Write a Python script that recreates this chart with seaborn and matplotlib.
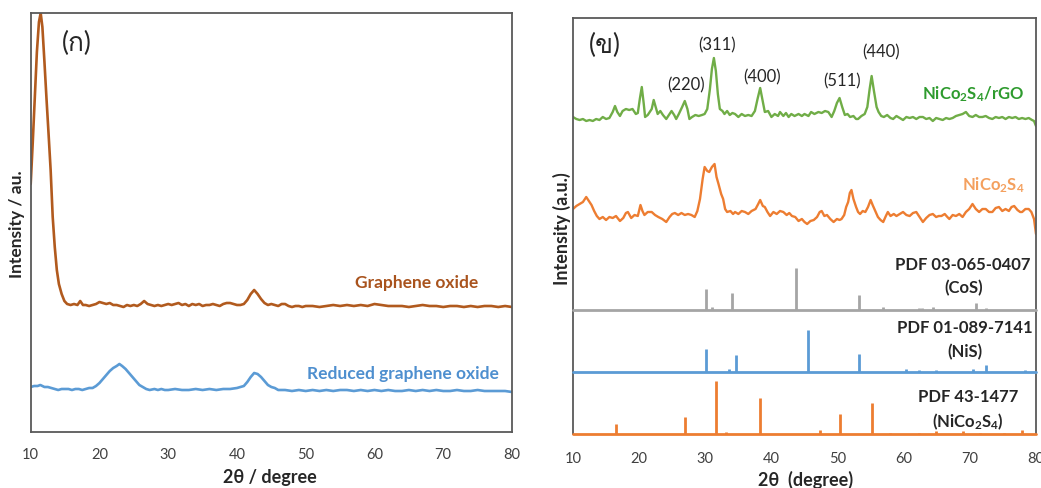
import numpy as np
import pandas as pd
import matplotlib
matplotlib.use("Agg")
import matplotlib.pyplot as plt
import seaborn as sns
from matplotlib import font_manager

# ---------------------------------------------------------------- data
# (a) graphene oxide / reduced graphene oxide, 2-theta vs intensity (a.u.)
go_2theta = [10.0, 10.3, 10.6, 10.9, 11.2, 11.45, 11.7, 12.0, 12.3, 12.6, 12.9, 13.2, 13.5, 13.8,
             14.1, 14.5, 14.9, 15.3, 15.8, 16.3, 16.8, 17.2, 17.6, 18.0, 18.5, 19.0, 19.5, 20.0,
             20.5, 21.0, 21.5, 22.0, 22.5, 23.0, 23.5, 24.0, 24.5, 25.0, 25.5, 26.0, 26.5, 27.0,
             27.5, 28.0, 28.5, 29.0, 29.5, 30.0, 30.5, 31.0, 31.5, 32.0, 32.5, 33.0, 33.5, 34.0,
             34.5, 35.0, 35.5, 36.0, 36.5, 37.0, 37.5, 38.0, 38.5, 39.0, 39.5, 40.0, 40.5, 41.0,
             41.5, 42.0, 42.5, 43.0, 43.5, 44.0, 44.5, 45.0, 45.5, 46.0, 46.5, 47.0, 47.5, 48.0,
             48.5, 49.0, 49.5, 50.0, 51.0, 52.0, 53.0, 54.0, 55.0, 56.0, 57.0, 58.0, 59.0, 60.0,
             61.0, 62.0, 63.0, 64.0, 65.0, 66.0, 67.0, 68.0, 69.0, 70.0, 71.0, 72.0, 73.0, 74.0,
             75.0, 76.0, 77.0, 78.0, 79.0, 80.0]
go_int = [138, 180, 225, 270, 300, 309, 295, 260, 223, 188, 152, 105, 75, 52,
          38, 28, 21, 18, 17, 18, 17, 21, 17, 17, 16, 17, 18, 20,
          19, 18, 19, 17, 17, 16, 15, 17, 16, 17, 16, 18, 21, 18,
          17, 16, 17, 16, 17, 18, 17, 18, 19, 17, 18, 16, 18, 17,
          18, 16, 17, 17, 18, 17, 16, 18, 19, 19, 18, 17, 17, 18,
          22, 28, 32, 28, 23, 19, 17, 18, 17, 16, 18, 18, 16, 15,
          16, 16, 15, 16, 16, 15, 16, 17, 16, 17, 16, 17, 16, 18,
          17, 16, 16, 16, 15, 16, 17, 16, 16, 15, 16, 16, 15, 16,
          15, 16, 16, 15, 16, 15]

rgo_2theta = [10.0, 10.5, 11.0, 11.4, 12.0, 12.5, 13.0, 13.5, 14.0, 14.5, 15.0, 15.5, 16.0, 16.5,
              17.0, 17.5, 18.0, 18.5, 19.0, 19.5, 20.0, 20.5, 21.0, 21.5, 22.0, 22.5, 22.9, 23.3,
              23.8, 24.3, 24.8, 25.3, 25.8, 26.3, 26.8, 27.3, 28.0, 28.5, 29.0, 29.5, 30.0, 31.0,
              32.0, 33.0, 34.0, 35.0, 36.0, 37.0, 38.0, 39.0, 40.0, 40.5, 41.0, 41.5, 42.0, 42.5,
              43.0, 43.5, 44.0, 44.5, 45.0, 45.5, 46.0, 47.0, 48.0, 49.0, 50.0, 51.0, 52.0, 53.0,
              54.0, 55.0, 56.0, 57.0, 58.0, 59.0, 60.0, 61.0, 62.0, 63.0, 64.0, 65.0, 66.0, 67.0,
              68.0, 69.0, 70.0, 71.0, 72.0, 73.0, 74.0, 75.0, 76.0, 77.0, 78.0, 79.0, 80.0]
rgo_int = [15, 16, 16, 17, 15, 15, 14, 13, 12, 13, 13, 13, 12, 13,
           13, 12, 13, 14, 14, 16, 19, 23, 27, 31, 34, 36, 38, 36,
           33, 29, 25, 21, 17, 15, 13, 12, 13, 12, 13, 12, 12, 13,
           12, 12, 13, 12, 13, 12, 13, 13, 14, 15, 16, 20, 25, 29,
           28, 25, 21, 17, 15, 14, 12, 12, 11, 12, 11, 12, 11, 12,
           11, 12, 12, 11, 12, 11, 12, 11, 12, 11, 11, 12, 11, 12,
           11, 12, 11, 11, 12, 11, 11, 12, 11, 11, 11, 11, 10]

# (b) NiCo2S4/rGO composite
comp_2theta = [10.0, 10.5, 11.0, 11.5, 12.0, 12.5, 13.0, 13.5, 14.0, 14.5, 15.0, 15.5, 16.0, 16.35,
               16.7, 17.1, 17.5, 18.0, 18.5, 19.0, 19.5, 19.8, 20.1, 20.4, 20.7, 20.9, 21.3, 21.6,
               21.9, 22.2, 22.5, 22.8, 23.2, 23.6, 24.1, 24.5, 24.9, 25.3, 25.6, 26.0, 26.5, 26.9,
               27.3, 27.6, 28.0, 28.5, 29.0, 29.5, 29.9, 30.3, 30.7, 31.0, 31.3, 31.6, 31.9, 32.2,
               32.6, 32.9, 33.3, 33.7, 34.1, 34.5, 35.0, 35.5, 36.0, 36.5, 37.0, 37.5, 37.9, 38.3,
               38.7, 39.0, 39.5, 40.0, 40.5, 41.0, 41.3, 41.8, 42.2, 42.6, 43.0, 43.5, 44.1, 44.6,
               45.0, 45.6, 46.0, 46.5, 47.1, 47.6, 48.1, 48.6, 49.1, 49.5, 49.9, 50.3, 50.7, 51.1,
               51.5, 51.9, 52.4, 52.8, 53.1, 53.6, 54.1, 54.5, 54.85, 55.15, 55.5, 55.9, 56.2, 56.6,
               57.0, 57.5, 58.0, 58.4, 58.9, 59.4, 59.9, 60.4, 60.9, 61.4, 61.9, 62.4, 62.9, 63.4,
               63.9, 64.4, 64.9, 65.4, 65.9, 66.4, 66.9, 67.4, 67.9, 68.4, 68.9, 69.4, 69.9, 70.4,
               70.9, 71.4, 71.9, 72.4, 72.9, 73.4, 73.9, 74.4, 74.9, 75.4, 75.9, 76.4, 76.9, 77.4,
               77.9, 78.4, 78.9, 79.4, 79.7, 80.0]
comp_int = [17, 15, 14, 15, 13, 14, 13, 15, 14, 17, 15, 16, 22, 28,
            22, 18, 23, 25, 24, 25, 20, 21, 35, 47, 30, 17, 19, 22,
            25, 34, 27, 20, 23, 19, 15, 19, 23, 19, 15, 20, 27, 33,
            25, 15, 17, 19, 18, 19, 20, 25, 45, 65, 76, 63, 40, 25,
            23, 20, 23, 19, 21, 20, 17, 20, 18, 19, 18, 23, 35, 46,
            32, 22, 23, 17, 20, 18, 22, 18, 21, 17, 20, 18, 20, 18,
            20, 18, 22, 20, 22, 21, 23, 22, 17, 23, 31, 36, 27, 19,
            20, 17, 18, 15, 15, 18, 20, 27, 45, 58, 43, 27, 22, 18,
            17, 19, 16, 15, 18, 16, 14, 17, 16, 17, 15, 17, 17, 15,
            16, 13, 16, 15, 14, 16, 15, 16, 18, 19, 20, 22, 18, 17,
            19, 17, 17, 18, 16, 15, 17, 16, 17, 15, 17, 16, 17, 15,
            16, 15, 16, 14, 13, 8]

# (b) bare NiCo2S4
nco_2theta = [10.0, 10.5, 11.0, 11.5, 12.0, 12.4, 12.8, 13.2, 13.6, 14.0, 14.5, 15.0, 15.5, 16.0,
              16.5, 17.1, 17.6, 18.0, 18.3, 18.8, 19.3, 19.8, 20.2, 20.5, 20.8, 21.3, 21.9, 22.4,
              22.9, 23.5, 24.1, 24.6, 25.0, 25.4, 25.9, 26.4, 26.9, 27.4, 27.9, 28.4, 28.8, 29.2,
              29.6, 29.9, 30.3, 30.6, 31.0, 31.4, 31.7, 32.0, 32.4, 32.7, 33.0, 33.3, 33.8, 34.2,
              34.5, 35.0, 35.5, 36.0, 36.5, 37.0, 37.6, 38.0, 38.3, 38.7, 39.0, 39.4, 39.8, 40.3,
              40.8, 41.3, 41.8, 42.3, 42.7, 43.1, 43.6, 44.1, 44.6, 45.0, 45.4, 45.9, 46.4, 46.9,
              47.3, 47.6, 48.0, 48.4, 48.9, 49.4, 49.9, 50.3, 50.6, 51.0, 51.3, 51.6, 51.85, 52.1,
              52.4, 52.8, 53.1, 53.4, 53.8, 54.2, 54.6, 55.0, 55.3, 55.7, 56.1, 56.5, 56.9, 57.3,
              57.6, 58.0, 58.5, 58.9, 59.4, 59.9, 60.4, 60.9, 61.4, 61.9, 62.4, 62.9, 63.4, 63.9,
              64.4, 64.9, 65.3, 65.7, 66.2, 66.6, 66.9, 67.4, 67.9, 68.4, 68.9, 69.4, 69.9, 70.4,
              70.9, 71.4, 71.9, 72.4, 72.9, 73.4, 73.9, 74.4, 74.9, 75.4, 75.9, 76.3, 76.7, 77.2,
              77.6, 77.9, 78.4, 78.9, 79.3, 79.7, 80.0]
nco_int = [20, 23, 25, 27, 32, 28, 24, 18, 13, 10, 12, 9, 12, 11,
           13, 8, 11, 16, 17, 11, 14, 13, 24, 18, 14, 17, 17, 14,
           12, 10, 7, 12, 15, 16, 14, 16, 14, 15, 14, 12, 18, 30,
           50, 62, 58, 57, 62, 65, 52, 45, 35, 30, 20, 17, 18, 15,
           17, 15, 18, 17, 15, 18, 20, 25, 29, 23, 22, 17, 13, 17,
           15, 18, 17, 14, 16, 13, 12, 8, 10, 7, 5, 8, 9, 12,
           17, 18, 13, 14, 10, 7, 10, 9, 10, 14, 22, 27, 36, 39,
           30, 22, 17, 15, 18, 17, 22, 29, 24, 18, 12, 9, 7, 13,
           17, 13, 15, 13, 15, 17, 14, 13, 16, 17, 12, 7, 11, 14,
           15, 12, 13, 13, 15, 12, 10, 14, 13, 15, 12, 17, 20, 25,
           20, 17, 20, 20, 17, 17, 21, 22, 18, 20, 18, 22, 23, 19,
           17, 17, 20, 20, 17, 10, -5]

# Reference patterns (stick positions / relative intensities)
cos_pos = [30.06, 30.97, 34.0, 43.67, 53.3, 56.8, 62.3, 62.7, 64.4, 71.0, 72.5]
cos_int = [21, 3, 17, 42, 15, 3, 2, 2, 3, 7, 2]
nis_pos = [30.06, 33.6, 34.6, 45.6, 53.3, 60.4, 62.3, 64.9, 70.4, 72.5, 78.3]
nis_int = [23, 3, 17, 42, 18, 3, 2, 2, 3, 7.5, 2]
ref_pos = [16.5, 26.9, 31.6, 33.1, 38.3, 47.3, 50.4, 55.2, 57.9, 62.3, 64.9, 69.0, 71.5, 75.1, 77.9]
ref_int = [10, 17, 53, 2, 36, 4, 20, 31, 1.5, 1, 3, 3.5, 1, 1, 4.5]

hkl_labels = ["(220)", "(311)", "(400)", "(511)", "(440)"]
hkl_2theta = [27.1, 31.8, 38.6, 50.7, 56.6]

ticks = [10, 20, 30, 40, 50, 60, 70, 80]

# ---------------------------------------------------------------- style
sns.set_style("white")
BASE = "Lato"


def thai_family():
    try:
        from fontTools.ttLib import TTFont
    except Exception:
        return None
    seen = set()
    for f in font_manager.fontManager.ttflist:
        if f.name in seen:
            continue
        seen.add(f.name)
        try:
            tt = TTFont(f.fname, fontNumber=0, lazy=True)
            cmap = tt.getBestCmap() or {}
            if 0x0E01 in cmap and 0x0E02 in cmap:
                return f.name
        except Exception:
            continue
    return None


THAI = thai_family()
plt.rcParams["font.family"] = [BASE, "DejaVu Sans"]
plt.rcParams["mathtext.fontset"] = "custom"
plt.rcParams["mathtext.rm"] = BASE
plt.rcParams["mathtext.bf"] = BASE + ":bold"
plt.rcParams["mathtext.it"] = BASE + ":italic"

label_families = [BASE] + ([THAI] if THAI else []) + ["DejaVu Sans"]

W, H = 1041, 489
fig = plt.figure(figsize=(W / 100, H / 100), dpi=100)


def frac_box(left, top, right, bottom):
    return [left / W, 1 - bottom / H, (right - left) / W, (bottom - top) / H]


spine_col = "#595959"
tick_col = "#404040"
LBL = 12.5      # size of the in-plot bold labels
TICK = 10.5

# ---------------------------------------------------------------- panel (ก)
axA = fig.add_axes(frac_box(30.7, 14, 512, 433))
GO_OFF, RGO_OFF = 110, 30
go_df = pd.DataFrame({"x": go_2theta, "y": np.array(go_int) + GO_OFF})
rgo_df = pd.DataFrame({"x": rgo_2theta, "y": np.array(rgo_int) + RGO_OFF})
sns.lineplot(data=go_df, x="x", y="y", ax=axA, color="#B15A1E", lw=1.9, sort=False, estimator=None)
sns.lineplot(data=rgo_df, x="x", y="y", ax=axA, color="#5B9BD5", lw=1.9, sort=False, estimator=None)
axA.set_xlim(10, 80)
axA.set_ylim(0, 419)
axA.set_xticks(ticks)
axA.set_yticks([])
axA.set_xlabel("")
axA.set_ylabel("")
axA.tick_params(axis="x", length=0, pad=11, labelsize=TICK, labelcolor=tick_col)
for s in axA.spines.values():
    s.set_color(spine_col)
    s.set_linewidth(1.3)
axA.text(16.7, 390, "(ก)", fontsize=19, family=label_families, ha="center", va="center")
axA.text(66.2, 150, "Graphene oxide", fontsize=LBL, fontweight="bold", color="#A9531D",
         ha="center", va="center")
axA.text(64.2, 59, "Reduced graphene oxide", fontsize=LBL, fontweight="bold", color="#4E8FCF",
         ha="center", va="center")
fig.text(270 / W, 1 - 478 / H, "2θ / degree", fontsize=13, fontweight="bold", ha="center", va="center")
fig.text(17 / W, 1 - 224 / H, "Intensity / au.", fontsize=12.5, fontweight="bold", rotation=90,
         ha="center", va="center")

# ---------------------------------------------------------------- panel (ข)
axB = fig.add_axes(frac_box(573, 19, 1036, 435))
COMP_OFF, NCO_OFF, COS_OFF, NIS_OFF, REF_OFF = 300, 205, 124, 62, 0
comp_df = pd.DataFrame({"x": comp_2theta, "y": np.array(comp_int) + COMP_OFF})
nco_df = pd.DataFrame({"x": nco_2theta, "y": np.array(nco_int) + NCO_OFF})
sns.lineplot(data=comp_df, x="x", y="y", ax=axB, color="#70AD47", lw=1.7, sort=False, estimator=None)
sns.lineplot(data=nco_df, x="x", y="y", ax=axB, color="#ED7D31", lw=1.7, sort=False, estimator=None)

for pos, ints, off, col in [(cos_pos, cos_int, COS_OFF, "#A5A5A5"),
                            (nis_pos, nis_int, NIS_OFF, "#5B9BD5"),
                            (ref_pos, ref_int, REF_OFF, "#ED7D31")]:
    axB.vlines(pos, off, np.array(ints) + off, color=col, lw=2.0)
    axB.axhline(off, color=col, lw=2.0, clip_on=False, zorder=3)

axB.set_xlim(10, 80)
axB.set_ylim(0, 416)
axB.set_xticks(ticks)
axB.set_yticks([])
axB.set_xlabel("")
axB.set_ylabel("")
axB.tick_params(axis="x", length=0, pad=12, labelsize=TICK, labelcolor=tick_col)
for s in axB.spines.values():
    s.set_color(spine_col)
    s.set_linewidth(1.3)
axB.spines["bottom"].set_visible(False)

axB.text(14.8, 390, "(ข)", fontsize=19, family=label_families, ha="center", va="center")
hkl_y = [350, 390, 358, 354, 383]
for lab, xx, yy in zip(hkl_labels, hkl_2theta, hkl_y):
    axB.text(xx, yy, lab, fontsize=12, color="#262626", ha="center", va="center")

axB.text(70.5, 341, r"NiCo$_\mathbf{2}$S$_\mathbf{4}$/rGO", fontsize=12, fontweight="bold",
         color="#2E9B2E", ha="center", va="center")
axB.text(73.5, 250, r"NiCo$_\mathbf{2}$S$_\mathbf{4}$", fontsize=12, fontweight="bold",
         color="#F4A05E", ha="center", va="center")
axB.text(69.0, 170, "PDF 03-065-0407", fontsize=12, fontweight="bold", ha="center", va="center")
axB.text(69.0, 147, "(CoS)", fontsize=12, fontweight="bold", ha="center", va="center")
axB.text(69.3, 107, "PDF 01-089-7141", fontsize=12, fontweight="bold", ha="center", va="center")
axB.text(69.3, 83, "(NiS)", fontsize=12, fontweight="bold", ha="center", va="center")
axB.text(69.7, 38, "PDF 43-1477", fontsize=12, fontweight="bold", ha="center", va="center")
axB.text(69.7, 13, r"(NiCo$_\mathbf{2}$S$_\mathbf{4}$)", fontsize=12, fontweight="bold",
         ha="center", va="center")

fig.text(806 / W, 1 - 480 / H, "2θ  (degree)", fontsize=13, fontweight="bold", ha="center", va="center")
fig.text(562 / W, 1 - 229 / H, "Intensity (a.u.)", fontsize=13, fontweight="bold", rotation=90,
         ha="center", va="center")

fig.savefig("out.png", dpi=100, facecolor="white")
